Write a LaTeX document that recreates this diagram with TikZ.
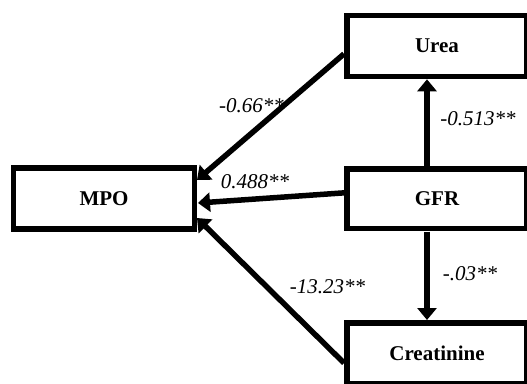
\documentclass[tikz,border=0pt]{standalone}
\usepackage{fontspec}
\setmainfont{Liberation Serif}
\usetikzlibrary{arrows.meta,calc}
\begin{document}
\begin{tikzpicture}[x=1pt,y=-1pt,
  box/.style={draw,line width=5.5pt,inner sep=0pt,outer sep=0pt,font=\fontsize{21}{25}\selectfont\bfseries},
  conn/.style={line width=5.5pt,-{Triangle[length=12pt,width=19pt]}},
  lbl/.style={font=\fontsize{21}{25}\selectfont\itshape,inner sep=0pt}]
\useasboundingbox (0,0) rectangle (527,383);
\node[box,minimum width=180pt,minimum height=60.8pt] (urea) at (437,45.9) {Urea};
\node[box,minimum width=180pt,minimum height=59.7pt] (gfr) at (437,198.85) {GFR};
\node[box,minimum width=180pt,minimum height=61pt] (creat) at (437,353.5) {Creatinine};
\node[box,minimum width=181pt,minimum height=61pt] (mpo) at (104,198.5) {MPO};
\draw[conn] ($(urea.west)+(-3,8)$) -- ($(mpo.east)+(2.5,-18.5)$);
\draw[conn] ($(gfr.west)+(-3,-6)$) -- ($(mpo.east)+(3.5,4.5)$);
\draw[conn] ($(creat.west)+(-3,9.5)$) -- ($(mpo.east)+(2.5,19.5)$);
\draw[conn] ($(gfr.north)+(-10,-3)$) -- ($(urea.south)+(-10,3)$);
\draw[conn] ($(gfr.south)+(-10,3)$) -- ($(creat.north)+(-10,-3)$);
\node[lbl] (l1) at (251.5,106) {-0.66**};
\node[lbl] (l2) at (255,181.5) {0.488**};
\node[lbl] (l3) at (478,118.3) {-0.513**};
\node[lbl] (l4) at (470,274) {-.03**};
\node[lbl] (l5) at (327.5,286.4) {-13.23**};
\end{tikzpicture}
\end{document}
